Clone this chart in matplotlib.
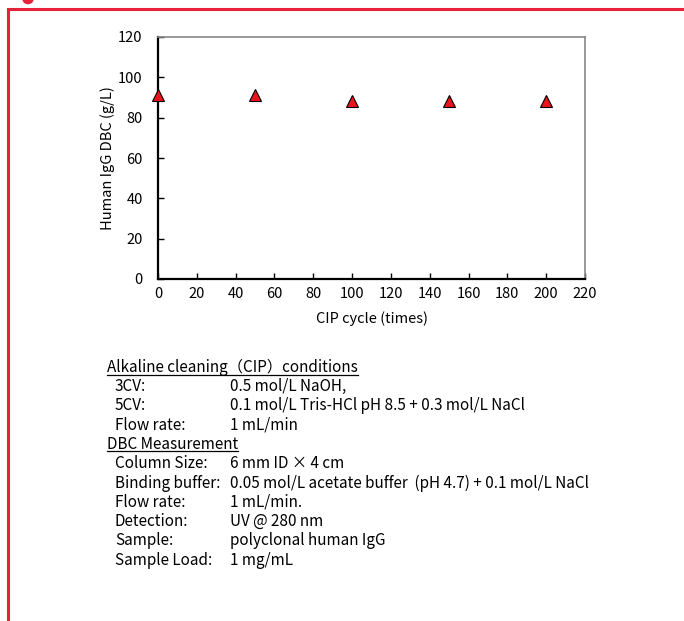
import matplotlib
matplotlib.use("Agg")
import matplotlib.pyplot as plt
from matplotlib.lines import Line2D
from matplotlib.patches import Circle

# data
cycles = [0, 50, 100, 150, 200]
dbc = [91, 91, 88.5, 88.5, 88.5]
xticks = list(range(0, 221, 20))
yticks = list(range(0, 121, 20))

heading1 = "Alkaline cleaning\uff08CIP\uff09conditions"
rows1 = [("3CV:", "0.5 mol/L NaOH,"),
         ("5CV:", "0.1 mol/L Tris-HCl pH 8.5 + 0.3 mol/L NaCl"),
         ("Flow rate:", "1 mL/min")]
heading2 = "DBC Measurement"
rows2 = [("Column Size:", "6 mm ID \u00d7 4 cm"),
         ("Binding buffer:", "0.05 mol/L acetate buffer  (pH 4.7) + 0.1 mol/L NaCl"),
         ("Flow rate:", "1 mL/min."),
         ("Detection:", "UV @ 280 nm"),
         ("Sample:", "polyclonal human IgG"),
         ("Sample Load:", "1 mg/mL")]

plt.rcParams["font.family"] = ["Noto Sans CJK JP", "DejaVu Sans"]

W, H = 684, 621
fig = plt.figure(figsize=(W / 100, H / 100), dpi=100)

def fx(px):
    return px / W

def fy(py):
    return 1 - py / H

red = "#e8203a"

# red frame of the figure box
fig.add_artist(Line2D([fx(8), 1], [fy(9), fy(9)], color=red, lw=2.2))
fig.add_artist(Line2D([fx(8), fx(8)], [fy(9), 0], color=red, lw=2.2))
fig.add_artist(Circle((fx(28), fy(-1)), 5 / W, color=red, transform=fig.transFigure))

ax = fig.add_axes([fx(158), fy(279), fx(585) - fx(158), fy(37) - fy(279)])
ax.plot(cycles, dbc, linestyle="none", marker="^", markersize=9,
        markerfacecolor="#e8141e", markeredgecolor="black", markeredgewidth=0.8,
        clip_on=False, zorder=5)
ax.set_xlim(0, 220)
ax.set_ylim(0, 120)
ax.set_xticks(xticks)
ax.set_yticks(yticks)
ax.tick_params(direction="in", length=4, width=1, labelsize=10.5)
ax.tick_params(axis="x", pad=6)
ax.tick_params(axis="y", pad=11)
ax.spines["left"].set_linewidth(1.6)
ax.spines["bottom"].set_linewidth(1.6)
for s in ("top", "right"):
    ax.spines[s].set_color("#888888")
    ax.spines[s].set_linewidth(1.2)
ax.set_xlabel("CIP cycle (times)", fontsize=10.5, labelpad=7)
ax.set_ylabel("Human IgG DBC (g/L)", fontsize=10.5)
ax.yaxis.set_label_coords((115 - 158) / 427, 0.5)

# conditions text block
fig.canvas.draw()
renderer = fig.canvas.get_renderer()

def heading(txt, py):
    t = fig.text(fx(107), fy(py), txt, fontsize=11, va="baseline", ha="left")
    bb = t.get_window_extent(renderer=renderer)
    yline = fy(py + 2.5)
    fig.add_artist(Line2D([bb.x0 / W, bb.x1 / W], [yline, yline], color="black", lw=0.9))

def row(label, value, py):
    fig.text(fx(115), fy(py), label, fontsize=11, va="baseline", ha="left")
    fig.text(fx(230), fy(py), value, fontsize=11, va="baseline", ha="left")

heading(heading1, 372)
y = 391
for lab, val in rows1:
    row(lab, val, y)
    y += 19.3
heading(heading2, y)
y += 19.3
for lab, val in rows2:
    row(lab, val, y)
    y += 19.3

fig.savefig("out.png", dpi=100)
